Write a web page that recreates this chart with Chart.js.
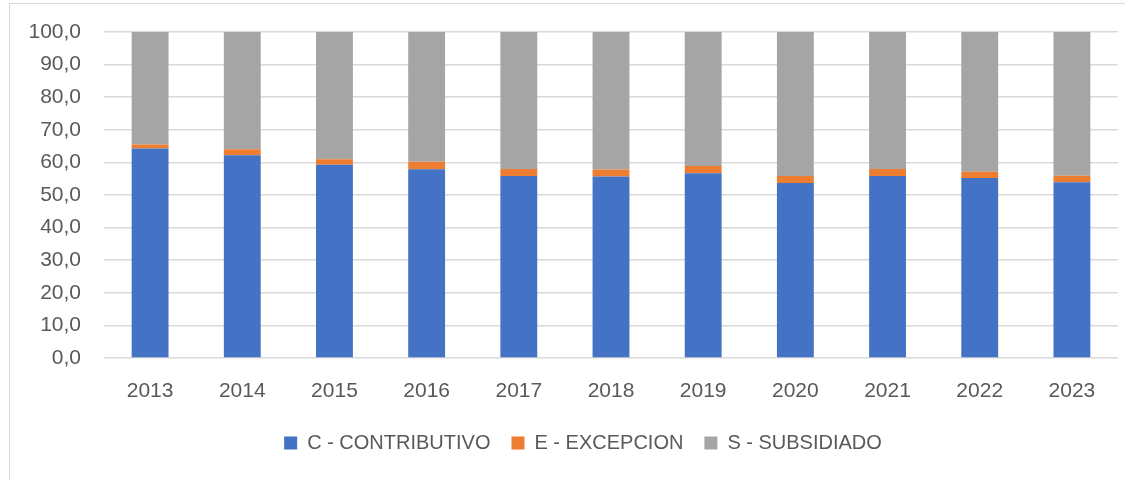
<!DOCTYPE html>
<html>
<head>
<meta charset="utf-8">
<script src="https://cdn.jsdelivr.net/npm/chart.js@4"></script>
<style>
  html, body { margin: 0; padding: 0; background: #ffffff; }
  #wrap { position: relative; width: 1146px; height: 480px; overflow: hidden; }
  #frame { position: absolute; left: 9px; top: 3px; width: 1116px; height: 490px;
           border-left: 1px solid #d9d9d9; border-top: 1px solid #d9d9d9; box-sizing: border-box; }
  canvas { position: absolute; left: 0; top: 0; }
</style>
</head>
<body>
<div id="wrap">
  <div id="frame"></div>
  <canvas id="c" width="1146" height="480"></canvas>
</div>
<script>
const categories = ['2013','2014','2015','2016','2017','2018','2019','2020','2021','2022','2023'];
const contributivo = [64.3, 62.2, 59.3, 57.9, 55.8, 55.7, 56.7, 53.7, 55.8, 55.2, 53.9];
const excepcion    = [1.2, 1.8, 1.7, 2.3, 2.2, 2.1, 2.2, 2.1, 2.2, 1.9, 2.0];
const subsidiado   = [34.5, 36.0, 39.0, 39.8, 42.0, 42.2, 41.1, 44.2, 42.0, 42.9, 44.1];
const seriesLabels = ['C - CONTRIBUTIVO', 'E - EXCEPCION', 'S - SUBSIDIADO'];

const FONT = "'Liberation Sans', Arial, sans-serif";
const TXT = '#595959';

const legendShift = {
  id: 'legendShift',
  afterLayout(chart) {
    const l = chart.legend;
    if (l) { l.left += 14; l.right += 14; }
  }
};

new Chart(document.getElementById('c'), {
  type: 'bar',
  data: {
    labels: categories,
    datasets: [
      { label: seriesLabels[0], data: contributivo, backgroundColor: '#4472C4' },
      { label: seriesLabels[1], data: excepcion, backgroundColor: '#ED7D31' },
      { label: seriesLabels[2], data: subsidiado, backgroundColor: '#A5A5A5' }
    ]
  },
  plugins: [legendShift],
  options: {
    responsive: false,
    animation: false,
    devicePixelRatio: 1,
    layout: { padding: { left: 20, right: 28, top: 32, bottom: 17 } },
    datasets: { bar: { categoryPercentage: 1, barPercentage: 0.4 } },
    plugins: {
      tooltip: { enabled: false },
      legend: {
        position: 'bottom',
        labels: {
          boxWidth: 13, boxHeight: 13, padding: 21, color: TXT,
          font: { family: FONT, size: 20 }
        }
      }
    },
    scales: {
      x: {
        stacked: true,
        grid: { display: false, drawTicks: false },
        border: { display: false },
        ticks: { color: TXT, font: { family: FONT, size: 21 }, padding: 21, maxRotation: 0 },
        afterFit: (s) => { s.height = 54; }
      },
      y: {
        stacked: true,
        min: 0, max: 100,
        grid: { color: '#d9d9d9', lineWidth: 1.5, drawTicks: false },
        border: { display: false },
        ticks: {
          stepSize: 10, color: TXT, font: { family: FONT, size: 21 }, padding: 23,
          callback: (v) => v.toFixed(1).replace('.', ',')
        },
        afterFit: (s) => { s.width = 84; s.paddingTop = 0; s.paddingBottom = 0; }
      }
    }
  }
});
</script>
</body>
</html>
